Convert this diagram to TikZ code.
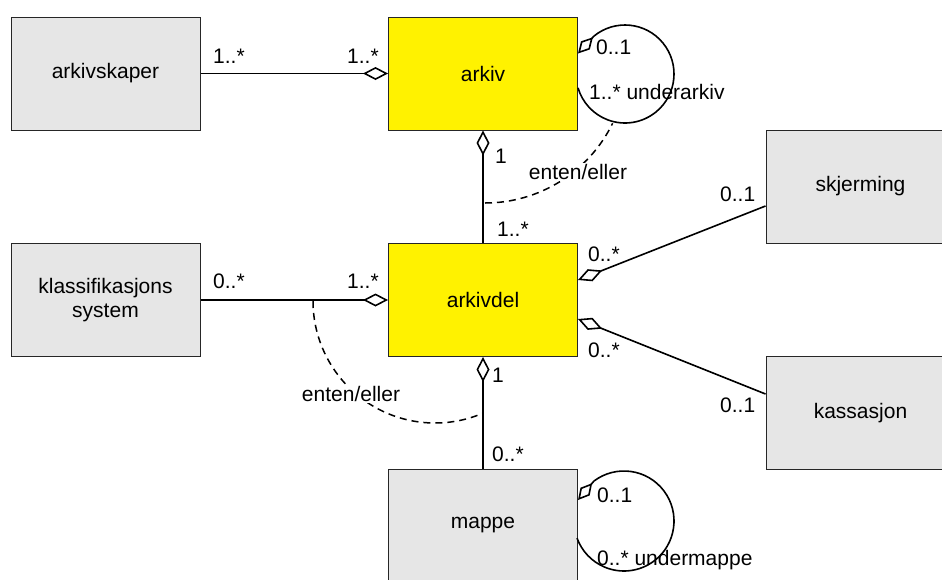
\documentclass[tikz,border=0pt]{standalone}
\usepackage{fontspec}
\setmainfont{Liberation Sans}
\usetikzlibrary{arrows.meta,calc}
\definecolor{boxgrey}{RGB}{230,230,230}
\begin{document}
\begin{tikzpicture}[x=1pt,y=-1pt,
  font=\fontsize{21}{24.5}\selectfont,
  box/.style={draw=black!85, line width=1pt, minimum width=189pt, minimum height=113pt, inner sep=0pt, align=center},
  grey/.style={box, fill=boxgrey},
  yel/.style={box, fill=yellow},
  conn/.style={line width=1.6pt, draw=black},
  agg/.style={conn, -{Diamond[open, length=25pt, width=13pt]}},
  aggs/.style={conn, -{Diamond[open, length=26pt, width=13pt]}},
  aggl/.style={conn, -{Diamond[open, length=22pt, width=12pt]}},
  lab/.style={inner sep=0pt, anchor=base west},
  cons/.style={line width=1.5pt, dash pattern=on 7pt off 5pt},
  constext/.style={fill=white, inner sep=1.5pt}]
\useasboundingbox (0,0) rectangle (942,579);
\clip (0,0) rectangle (942,579);

% classes
\node[grey] (arkivskaper) at (105.5,73.5) {arkivskaper};
\node[yel]  (arkiv)       at (483,73.5)   {arkiv};
\node[grey] (klass)       at (105.5,300)  {klassifikasjons\\system};
\node[yel]  (arkivdel)    at (483,300)    {arkivdel};
\node[grey] (skjerming)   at (860.5,186.5) {skjerming};
\node[grey] (kassasjon)   at (860.5,413)  {kassasjon};
\node[grey] (mappe)       at (483,525.5)  {mappe};

% associations
\draw[agg] (arkivskaper) -- (arkiv);
\draw[agg] (arkivdel) -- (arkiv);
\draw[agg] (klass) -- (arkivdel);
\draw[agg] (mappe) -- (arkivdel);
\draw[aggs] ([yshift=-19.5pt]skjerming.west) -- ([yshift=20pt]arkivdel.east);
\draw[aggs] ([yshift=19pt]kassasjon.west) -- ([yshift=-19pt]arkivdel.east);

% self loops
\coordinate (c1) at (625,74);
\draw[conn] ($(c1)+(129.4:49pt)$) coordinate (l1s) arc[start angle=129.4, end angle=-163.5, radius=49pt];
\draw[aggl] (l1s) -- ([yshift=20pt]arkiv.east);
\coordinate (c2) at (624,521);
\draw[conn] ($(c2)+(127:50pt)$) coordinate (l2s) arc[start angle=127, end angle=-160, radius=50pt];
\draw[aggl] (l2s) -- ([yshift=25.5pt]mappe.east);

% constraints
\coordinate (d1c) at (485,61);
\draw[cons] ($(d1c)+(-90:142pt)$) coordinate (d1s) arc[start angle=-90, end angle=-26, radius=142pt];
\node[constext] (ee1) at (578,172) {enten/eller};
\coordinate (d2c) at (435,301);
\draw[cons] ($(d2c)+(180:122pt)$) coordinate (d2s) arc[start angle=180, end angle=293, radius=122pt];
\node[constext] (ee2) at (351,394) {enten/eller};

% multiplicities
\node[lab] (m1)  at (213,63)  {1..*};
\node[lab] (m2)  at (347,63)  {1..*};
\node[lab] (m3)  at (596,54)  {0..1};
\node[lab] (m4)  at (589,99)  {1..* underarkiv};
\node[lab] (m5)  at (495,163) {1};
\node[lab] (m6)  at (497,236) {1..*};
\node[lab] (m7)  at (720,201) {0..1};
\node[lab] (m8)  at (588,261) {0..*};
\node[lab] (m9)  at (588,357) {0..*};
\node[lab] (m10) at (720,412) {0..1};
\node[lab] (m11) at (213,288) {0..*};
\node[lab] (m12) at (347,288) {1..*};
\node[lab] (m13) at (492,382) {1};
\node[lab] (m14) at (492,461) {0..*};
\node[lab] (m15) at (597,502) {0..1};
\node[lab] (m16) at (597,565) {0..* undermappe};
\end{tikzpicture}
\end{document}
